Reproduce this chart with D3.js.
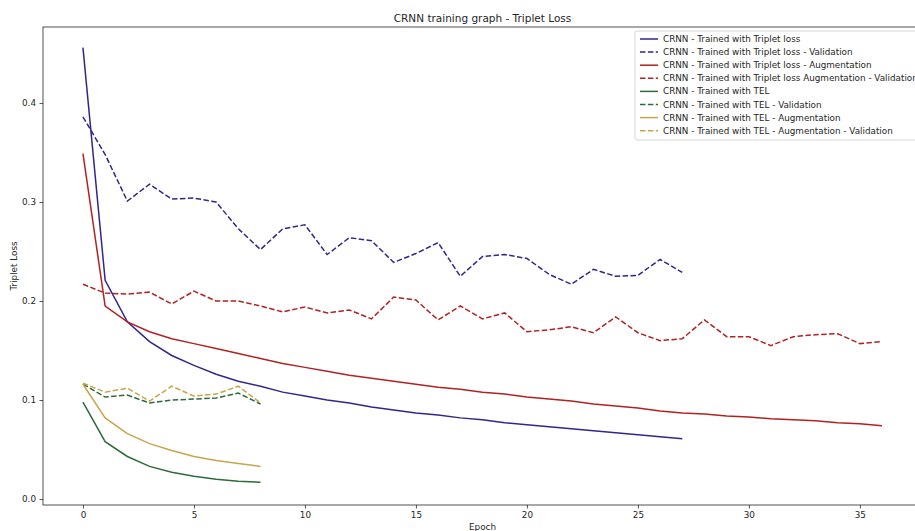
<!DOCTYPE html>
<head>
    <style>
        body { margin: 0; background: #fff; }
        text { font-family: "DejaVu Sans", sans-serif; fill: #262626; }
    </style>
</head>
<body>
    <script src="https://d3js.org/d3.v7.min.js"></script>
    <script>
        const width = 915;
        const height = 531;
        const margin = {top: 27, right: -7, bottom: 26, left: 43};
        const fs = 8.8;

        // values, one array per curve (index = epoch)
        const triplet = [0.456, 0.221, 0.179, 0.159, 0.145, 0.135, 0.126, 0.119, 0.114, 0.108,
            0.104, 0.100, 0.097, 0.093, 0.090, 0.087, 0.085, 0.082, 0.080, 0.077,
            0.075, 0.073, 0.071, 0.069, 0.067, 0.065, 0.063, 0.061];
        const tripletVal = [0.386, 0.348, 0.301, 0.318, 0.303, 0.304, 0.300, 0.273, 0.252, 0.273,
            0.277, 0.247, 0.264, 0.261, 0.239, 0.248, 0.259, 0.225, 0.245, 0.247,
            0.243, 0.227, 0.217, 0.232, 0.225, 0.226, 0.242, 0.229];
        const tripletAug = [0.349, 0.195, 0.179, 0.169, 0.162, 0.157, 0.152, 0.147, 0.142, 0.137,
            0.133, 0.129, 0.125, 0.122, 0.119, 0.116, 0.113, 0.111, 0.108, 0.106,
            0.103, 0.101, 0.099, 0.096, 0.094, 0.092, 0.089, 0.087, 0.086, 0.084,
            0.083, 0.081, 0.080, 0.079, 0.077, 0.076, 0.074];
        const tripletAugVal = [0.217, 0.208, 0.207, 0.209, 0.197, 0.210, 0.200, 0.200, 0.195, 0.189,
            0.194, 0.188, 0.191, 0.182, 0.204, 0.201, 0.181, 0.195, 0.182, 0.188,
            0.169, 0.171, 0.174, 0.168, 0.184, 0.168, 0.160, 0.162, 0.181, 0.164,
            0.164, 0.155, 0.164, 0.166, 0.167, 0.157, 0.159];
        const tel = [0.098, 0.058, 0.043, 0.033, 0.027, 0.023, 0.020, 0.018, 0.017];
        const telVal = [0.116, 0.103, 0.105, 0.097, 0.100, 0.101, 0.102, 0.107, 0.096];
        const telAug = [0.116, 0.082, 0.066, 0.056, 0.049, 0.043, 0.039, 0.036, 0.033];
        const telAugVal = [0.117, 0.108, 0.112, 0.099, 0.114, 0.104, 0.106, 0.114, 0.097];

        const xTicks = [0, 5, 10, 15, 20, 25, 30, 35];
        const yTicks = [0.0, 0.1, 0.2, 0.3, 0.4];

        const navy = "#33268a", red = "#b22222", green = "#2d6b3d", gold = "#c6a64b";
        const dashed = "5.5,2.4";
        const series = [
            {name: "CRNN - Trained with Triplet loss", values: triplet, color: navy, dash: null},
            {name: "CRNN - Trained with Triplet loss - Validation", values: tripletVal, color: navy, dash: dashed},
            {name: "CRNN - Trained with Triplet loss - Augmentation", values: tripletAug, color: red, dash: null},
            {name: "CRNN - Trained with Triplet loss Augmentation - Validation", values: tripletAugVal, color: red, dash: dashed},
            {name: "CRNN - Trained with TEL", values: tel, color: green, dash: null},
            {name: "CRNN - Trained with TEL - Validation", values: telVal, color: green, dash: dashed},
            {name: "CRNN - Trained with TEL - Augmentation", values: telAug, color: gold, dash: null},
            {name: "CRNN - Trained with TEL - Augmentation - Validation", values: telAugVal, color: gold, dash: dashed}
        ];

        const svg = d3.select("body").append("svg")
            .attr("width", width).attr("height", height);

        const x = d3.scaleLinear().domain([-1.8, 37.8])
            .range([margin.left, width - margin.right]);
        const y = d3.scaleLinear().domain([-0.006, 0.4768])
            .range([height - margin.bottom, margin.top]);

        const line = d3.line().x((d, i) => x(i)).y(d => y(d));

        svg.selectAll("path.series").data(series).enter().append("path")
            .attr("class", "series")
            .attr("d", d => line(d.values))
            .attr("fill", "none")
            .attr("stroke", d => d.color)
            .attr("stroke-width", 1.5)
            .attr("stroke-dasharray", d => d.dash);

        // axes
        const xAxis = svg.append("g")
            .attr("transform", `translate(0,${height - margin.bottom})`)
            .call(d3.axisBottom(x).tickValues(xTicks).tickFormat(d3.format("d")).tickSize(3.5).tickPadding(3.5));
        const yAxis = svg.append("g")
            .attr("transform", `translate(${margin.left},0)`)
            .call(d3.axisLeft(y).tickValues(yTicks).tickFormat(d3.format(".1f")).tickSize(3.5).tickPadding(3.5));
        [xAxis, yAxis].forEach(g => {
            g.select(".domain").remove();
            g.selectAll("line").attr("stroke", "#262626").attr("stroke-width", 0.8);
            g.selectAll("text").attr("font-size", fs).attr("font-family", "DejaVu Sans").attr("fill", "#262626");
        });

        // frame
        svg.append("rect")
            .attr("x", margin.left).attr("y", margin.top)
            .attr("width", width - margin.right - margin.left)
            .attr("height", height - margin.bottom - margin.top)
            .attr("fill", "none").attr("stroke", "#262626").attr("stroke-width", 0.8);

        svg.append("text")
            .attr("x", (margin.left + width - margin.right) / 2).attr("y", 22)
            .attr("text-anchor", "middle").attr("font-size", 10.5)
            .text("CRNN training graph - Triplet Loss");
        svg.append("text")
            .attr("x", (margin.left + width - margin.right) / 2).attr("y", 530)
            .attr("text-anchor", "middle").attr("font-size", fs)
            .text("Epoch");
        svg.append("text")
            .attr("transform", `translate(17,${(margin.top + height - margin.bottom) / 2}) rotate(-90)`)
            .attr("text-anchor", "middle").attr("font-size", fs)
            .text("Triplet Loss");

        // legend
        const lg = svg.append("g").attr("transform", "translate(635,31)");
        lg.append("rect")
            .attr("width", 300).attr("height", 109).attr("rx", 2)
            .attr("fill", "white").attr("fill-opacity", 0.8)
            .attr("stroke", "#cccccc").attr("stroke-width", 0.8);
        const item = lg.selectAll("g.item").data(series).enter().append("g")
            .attr("class", "item")
            .attr("transform", (d, i) => `translate(0,${8 + i * 13.1})`);
        item.append("line")
            .attr("x1", 5).attr("x2", 23)
            .attr("stroke", d => d.color).attr("stroke-width", 1.5)
            .attr("stroke-dasharray", d => d.dash);
        item.append("text")
            .attr("x", 28).attr("dy", "0.35em").attr("font-size", fs)
            .text(d => d.name);
    </script>
</body>
</html>
